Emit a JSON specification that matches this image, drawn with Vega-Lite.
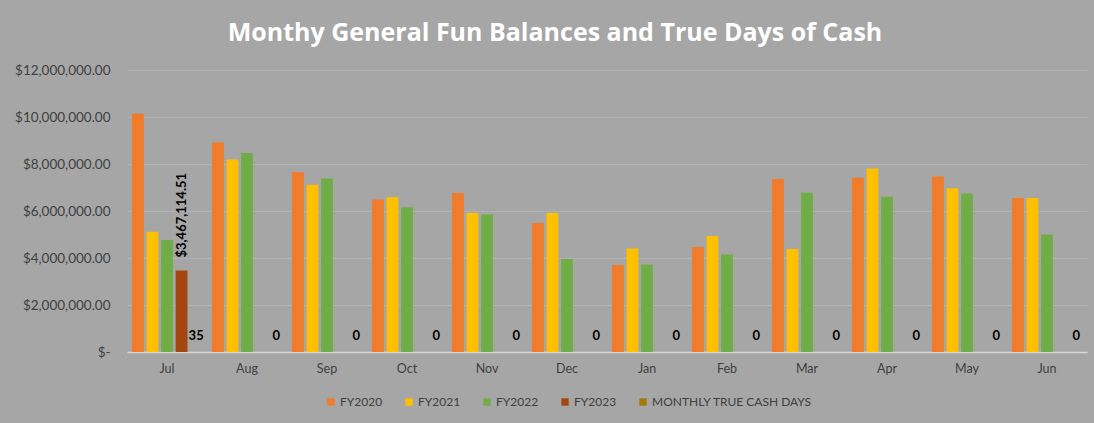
{
  "$schema": "https://vega.github.io/schema/vega-lite/v6.json",
  "width": 960,
  "height": 282,
  "autosize": {"type": "none"},
  "padding": {"left": 127, "top": 70, "right": 7, "bottom": 71},
  "background": "#A6A6A6",
  "title": {
    "text": "Monthy General Fun Balances and True Days of Cash",
    "color": "white",
    "fontSize": 25,
    "font": "Open Sans",
    "fontWeight": "bold",
    "anchor": "middle",
    "dx": -52,
    "offset": 17
  },
  "data": {
    "values": [
      {"month": "Jul", "series": "FY2020", "value": 10140000},
      {"month": "Jul", "series": "FY2021", "value": 5120000},
      {"month": "Jul", "series": "FY2022", "value": 4770000},
      {"month": "Jul", "series": "FY2023", "value": 3467114.51},
      {"month": "Jul", "series": "MONTHLY TRUE CASH DAYS", "value": 35},
      {"month": "Aug", "series": "FY2020", "value": 8920000},
      {"month": "Aug", "series": "FY2021", "value": 8190000},
      {"month": "Aug", "series": "FY2022", "value": 8470000},
      {"month": "Aug", "series": "MONTHLY TRUE CASH DAYS", "value": 0},
      {"month": "Sep", "series": "FY2020", "value": 7650000},
      {"month": "Sep", "series": "FY2021", "value": 7120000},
      {"month": "Sep", "series": "FY2022", "value": 7380000},
      {"month": "Sep", "series": "MONTHLY TRUE CASH DAYS", "value": 0},
      {"month": "Oct", "series": "FY2020", "value": 6490000},
      {"month": "Oct", "series": "FY2021", "value": 6580000},
      {"month": "Oct", "series": "FY2022", "value": 6160000},
      {"month": "Oct", "series": "MONTHLY TRUE CASH DAYS", "value": 0},
      {"month": "Nov", "series": "FY2020", "value": 6770000},
      {"month": "Nov", "series": "FY2021", "value": 5920000},
      {"month": "Nov", "series": "FY2022", "value": 5850000},
      {"month": "Nov", "series": "MONTHLY TRUE CASH DAYS", "value": 0},
      {"month": "Dec", "series": "FY2020", "value": 5490000},
      {"month": "Dec", "series": "FY2021", "value": 5920000},
      {"month": "Dec", "series": "FY2022", "value": 3960000},
      {"month": "Dec", "series": "MONTHLY TRUE CASH DAYS", "value": 0},
      {"month": "Jan", "series": "FY2020", "value": 3700000},
      {"month": "Jan", "series": "FY2021", "value": 4400000},
      {"month": "Jan", "series": "FY2022", "value": 3720000},
      {"month": "Jan", "series": "MONTHLY TRUE CASH DAYS", "value": 0},
      {"month": "Feb", "series": "FY2020", "value": 4470000},
      {"month": "Feb", "series": "FY2021", "value": 4940000},
      {"month": "Feb", "series": "FY2022", "value": 4150000},
      {"month": "Feb", "series": "MONTHLY TRUE CASH DAYS", "value": 0},
      {"month": "Mar", "series": "FY2020", "value": 7360000},
      {"month": "Mar", "series": "FY2021", "value": 4380000},
      {"month": "Mar", "series": "FY2022", "value": 6780000},
      {"month": "Mar", "series": "MONTHLY TRUE CASH DAYS", "value": 0},
      {"month": "Apr", "series": "FY2020", "value": 7410000},
      {"month": "Apr", "series": "FY2021", "value": 7810000},
      {"month": "Apr", "series": "FY2022", "value": 6610000},
      {"month": "Apr", "series": "MONTHLY TRUE CASH DAYS", "value": 0},
      {"month": "May", "series": "FY2020", "value": 7470000},
      {"month": "May", "series": "FY2021", "value": 6970000},
      {"month": "May", "series": "FY2022", "value": 6740000},
      {"month": "May", "series": "MONTHLY TRUE CASH DAYS", "value": 0},
      {"month": "Jun", "series": "FY2020", "value": 6550000},
      {"month": "Jun", "series": "FY2021", "value": 6550000},
      {"month": "Jun", "series": "FY2022", "value": 5000000},
      {"month": "Jun", "series": "MONTHLY TRUE CASH DAYS", "value": 0}
    ]
  },
  "encoding": {
    "x": {
      "field": "month",
      "type": "nominal",
      "sort": ["Jul", "Aug", "Sep", "Oct", "Nov", "Dec", "Jan", "Feb", "Mar", "Apr", "May", "Jun"],
      "scale": {"paddingInner": 0, "paddingOuter": 0},
      "axis": {
        "title": null,
        "labelAngle": 0,
        "ticks": false,
        "domainColor": "#D9D9D9",
        "domainWidth": 1.5,
        "labelPadding": 10,
        "labelFont": "Lato",
        "labelFontSize": 12.5,
        "labelColor": "#404040",
        "grid": false
      }
    },
    "xOffset": {
      "field": "series",
      "type": "nominal",
      "scale": {
        "domain": ["FY2020", "FY2021", "FY2022", "FY2023", "MONTHLY TRUE CASH DAYS"],
        "paddingInner": 0.19,
        "paddingOuter": 0.34
      }
    },
    "y": {
      "field": "value",
      "type": "quantitative",
      "scale": {"domain": [0, 12000000], "nice": false},
      "axis": {
        "title": null,
        "values": [0, 2000000, 4000000, 6000000, 8000000, 10000000, 12000000],
        "labelExpr": "datum.value == 0 ? '$-    ' : format(datum.value, '$,.2f')",
        "ticks": false,
        "domain": false,
        "labelPadding": 17,
        "labelFont": "Lato",
        "labelFontSize": 13.5,
        "labelColor": "#404040",
        "gridColor": "#B2B2B2",
        "gridWidth": 1
      }
    }
  },
  "layer": [
    {
      "mark": {"type": "bar"},
      "encoding": {
        "color": {
          "field": "series",
          "type": "nominal",
          "scale": {
            "domain": ["FY2020", "FY2021", "FY2022", "FY2023", "MONTHLY TRUE CASH DAYS"],
            "range": ["#F07B2A", "#FFC000", "#70AD47", "#A3470F", "#A07A0A"]
          },
          "legend": {
            "orient": "none",
            "legendX": 198,
            "legendY": 326,
            "direction": "horizontal",
            "title": null,
            "symbolType": "square",
            "symbolSize": 55,
            "symbolStrokeWidth": 0,
            "labelFont": "Lato",
            "labelFontSize": 12,
            "labelColor": "#404040",
            "columnPadding": 20,
            "labelOffset": 3
          }
        }
      }
    },
    {
      "transform": [{"filter": "datum.series == 'MONTHLY TRUE CASH DAYS'"}],
      "mark": {"type": "text", "baseline": "bottom", "dy": -9, "fontWeight": "bold", "fontSize": 13, "font": "Lato", "color": "#000000"},
      "encoding": {"text": {"field": "value", "type": "quantitative", "format": "d"}}
    },
    {
      "transform": [{"filter": "datum.series == 'FY2023'"}],
      "mark": {"type": "text", "angle": 270, "align": "left", "baseline": "middle", "dx": 13, "fontWeight": "bold", "fontSize": 13, "font": "Lato", "color": "#000000"},
      "encoding": {"text": {"field": "value", "type": "quantitative", "format": "$,.2f"}}
    }
  ],
  "config": {"view": {"stroke": null}}
}
